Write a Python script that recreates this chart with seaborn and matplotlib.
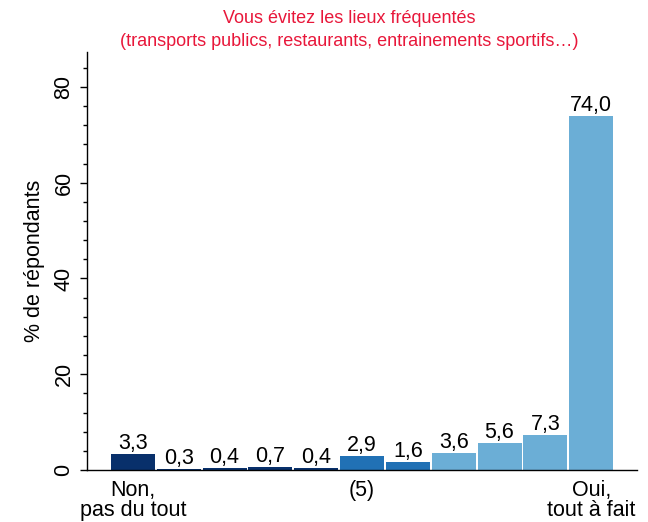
import matplotlib
matplotlib.use("Agg")
import matplotlib.pyplot as plt
from matplotlib.ticker import MultipleLocator
import seaborn as sns
import pandas as pd

# Survey answers on a 0-10 scale
scores = list(range(11))
percentages = [3.3, 0.3, 0.4, 0.7, 0.4, 2.9, 1.6, 3.6, 5.6, 7.3, 74.0]
groups = ["bas"] * 5 + ["milieu"] * 2 + ["haut"] * 4
group_colors = {"bas": "#08306b", "milieu": "#2171b5", "haut": "#6baed6"}
tick_positions = [0, 5, 10]
tick_labels = ["Non,\npas du tout", "(5)", "Oui,\ntout à fait"]
title_lines = "Vous évitez les lieux fréquentés\n(transports publics, restaurants, entrainements sportifs…)"

df = pd.DataFrame({"score": scores, "pct": percentages, "groupe": groups})

sns.set_theme(style="ticks")
plt.rcParams["font.family"] = ["Liberation Sans", "DejaVu Sans"]
plt.rcParams["text.color"] = "black"
plt.rcParams["axes.labelcolor"] = "black"
plt.rcParams["xtick.color"] = "black"
plt.rcParams["ytick.color"] = "black"

fig = plt.figure(figsize=(6.48, 5.22), dpi=100)
ax = fig.add_axes([87 / 648, 1 - 470 / 522, 550 / 648, 418 / 522])

sns.barplot(data=df, x="score", y="pct", hue="groupe", palette=group_colors,
            dodge=False, width=0.96, linewidth=0,
            saturation=1, legend=False, ax=ax, order=scores)

for container in ax.containers:
    ax.bar_label(container,
                 labels=[f"{v:.1f}".replace(".", ",") if v == v else "" for v in container.datavalues],
                 padding=0, fontsize=15.5, color="black")

ax.set_xlim(-1, 11)
ax.set_ylim(0, 87.3)
ax.set_xticks(tick_positions)
ax.set_xticklabels(tick_labels, fontsize=15.5, linespacing=0.95)
ax.tick_params(axis="x", length=0, pad=7)
ax.set_yticks([0, 20, 40, 60, 80])
ax.yaxis.set_minor_locator(MultipleLocator(4))
ax.tick_params(axis="y", which="major", length=5, width=1, labelsize=15.5, pad=4,
               color="black")
ax.tick_params(axis="y", which="minor", length=3, width=1, color="black")
for lab in ax.get_yticklabels():
    lab.set_rotation(90)
    lab.set_va("center")
ax.set_xlabel("")
ax.set_ylabel("% de répondants", fontsize=15.5, labelpad=6)

for side in ("top", "right"):
    ax.spines[side].set_visible(False)
for side in ("left", "bottom"):
    ax.spines[side].set_color("black")
    ax.spines[side].set_linewidth(1)

fig.text(349 / 648, 1 - 30 / 522, title_lines, ha="center", va="center",
         color="#e8173a", fontsize=13, linespacing=1.4)

fig.savefig("out.png", dpi=100, facecolor="white")
